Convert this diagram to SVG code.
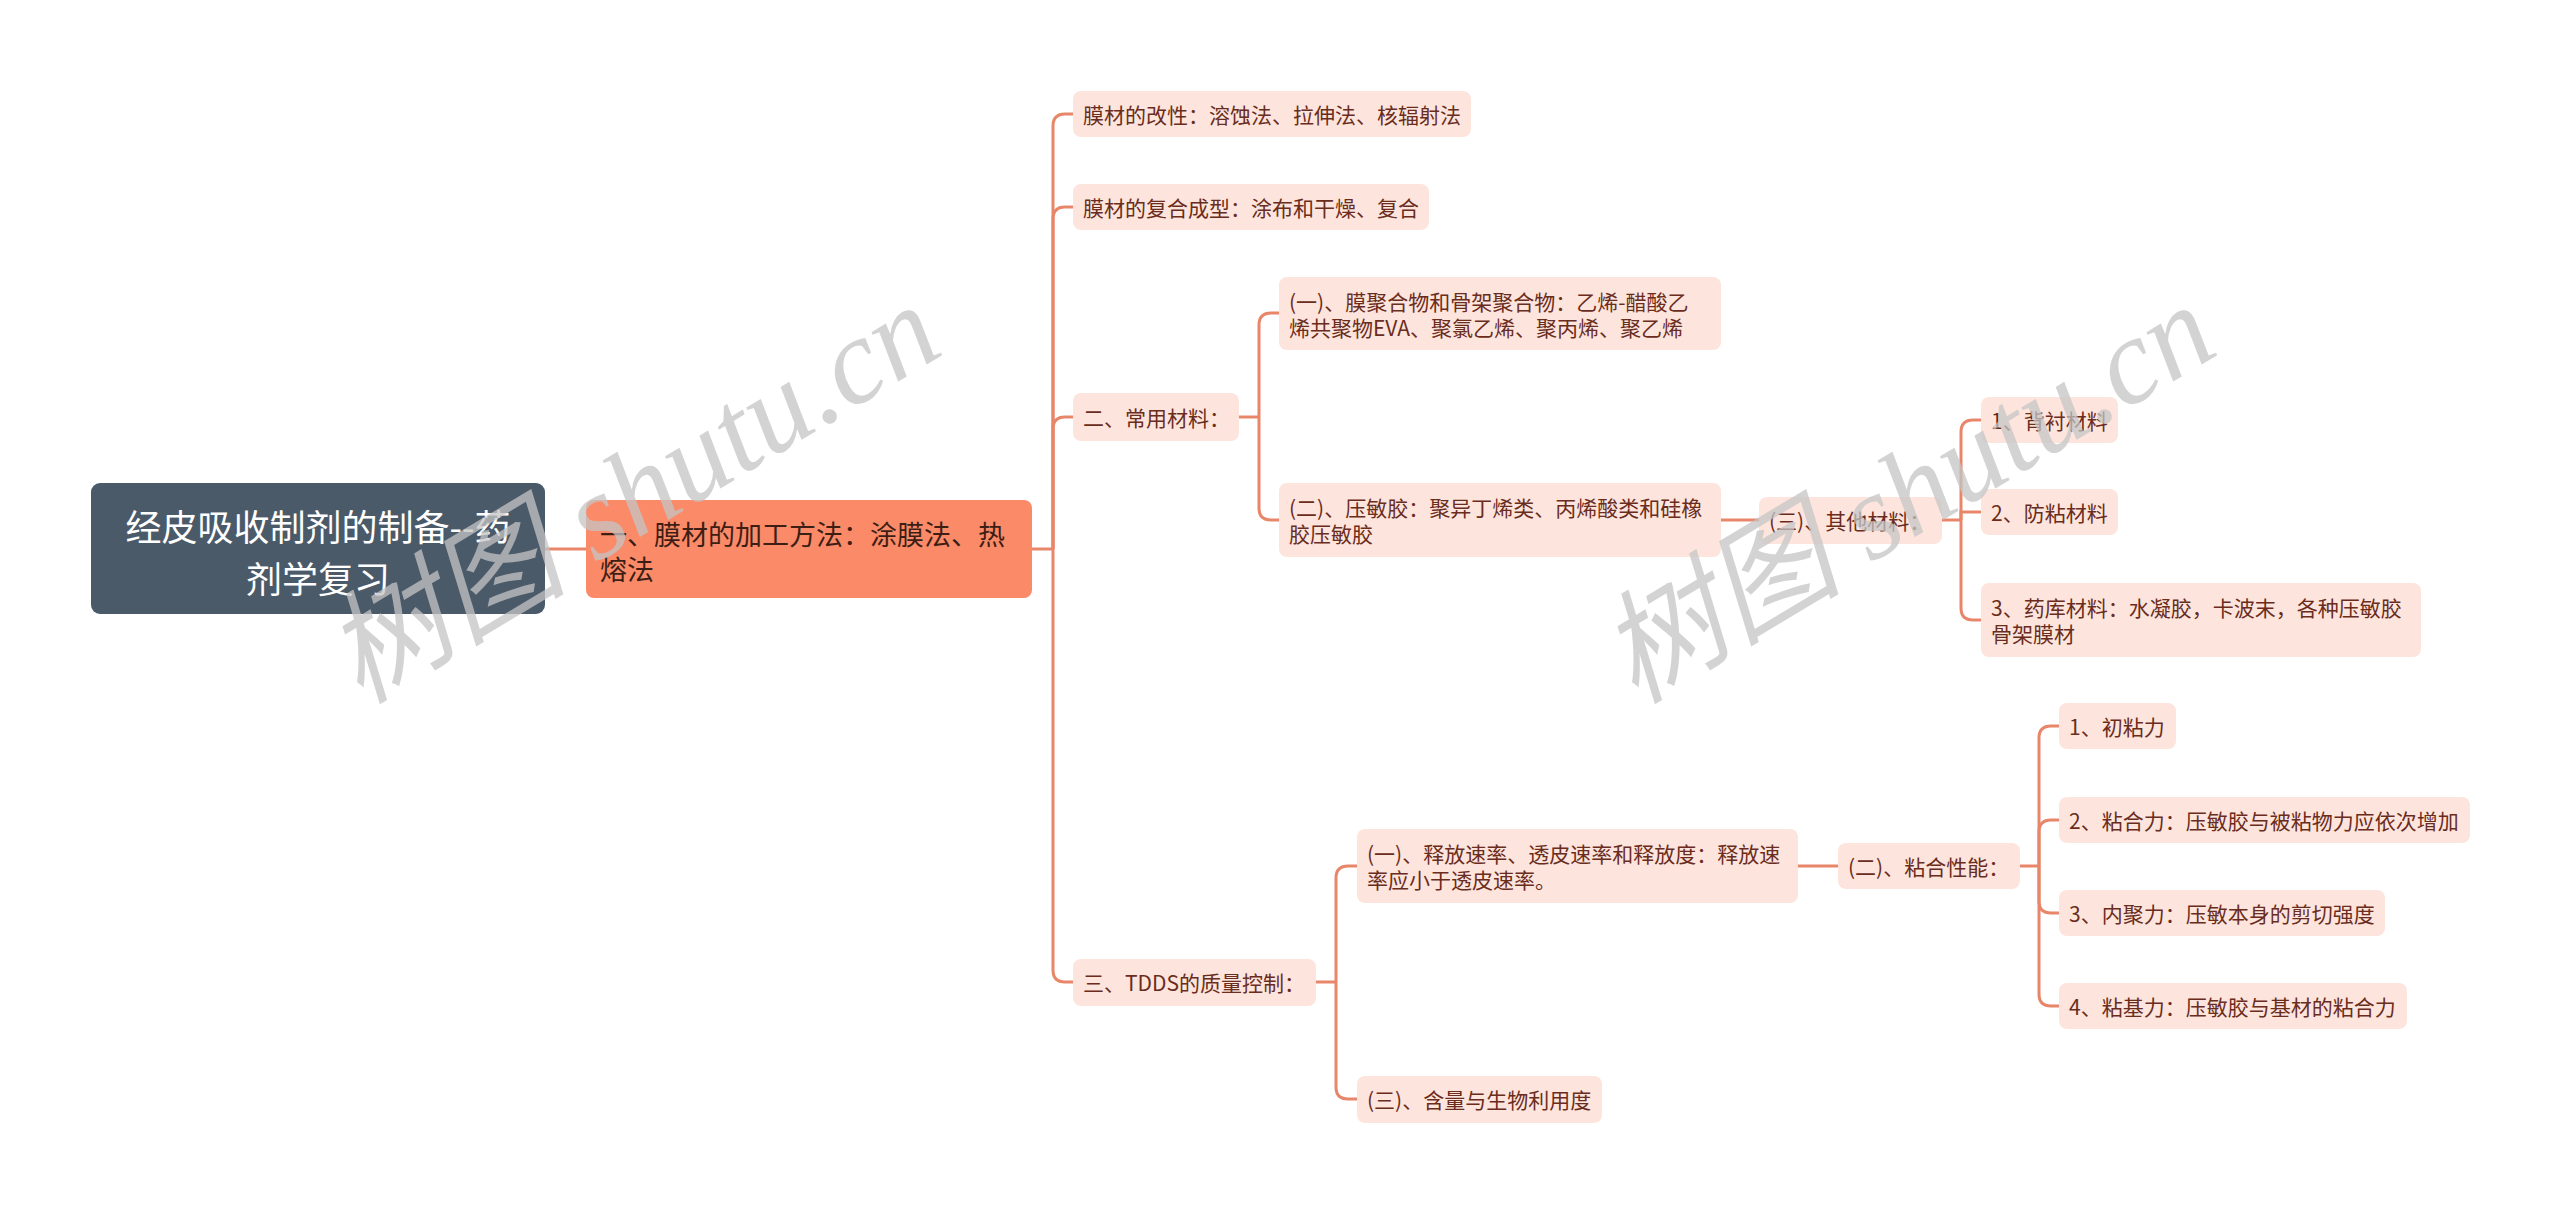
<svg xmlns="http://www.w3.org/2000/svg" width="2560" height="1213" viewBox="0 0 2560 1213">
<style>
.t{font-family:"Noto Sans CJK SC","Liberation Sans",sans-serif;}
.leaf{fill:#fde5dd;}
.lt{font-size:21px;fill:#6a2c1c;dominant-baseline:central;}
.c{fill:none;stroke:#e8866a;stroke-width:3;}
.wm{font-family:"Liberation Serif","Noto Sans CJK SC",serif;font-style:italic;font-size:122px;fill:#c4c4c4;fill-opacity:0.75;}
</style>
<rect width="2560" height="1213" fill="#ffffff"/>
<g id="connectors">
<path class="c" d="M545 549 H586"/>
<path class="c" d="M1032 549 H1053"/>
<path class="c" d="M1053 549 V126 Q1053 114 1065 114 H1073"/>
<path class="c" d="M1053 549 V219 Q1053 207 1065 207 H1073"/>
<path class="c" d="M1053 549 V429 Q1053 417 1065 417 H1073"/>
<path class="c" d="M1053 549 V970 Q1053 982 1065 982 H1073"/>
<path class="c" d="M1239 417 H1259"/>
<path class="c" d="M1259 417 V325 Q1259 313 1271 313 H1279"/>
<path class="c" d="M1259 417 V508 Q1259 520 1271 520 H1279"/>
<path class="c" d="M1721 520 H1759"/>
<path class="c" d="M1942 520 H1961"/>
<path class="c" d="M1961 520 V432 Q1961 420 1973 420 H1981"/>
<path class="c" d="M1961 520 V512 H1981"/>
<path class="c" d="M1961 520 V608 Q1961 620 1973 620 H1981"/>
<path class="c" d="M1316 982 H1336"/>
<path class="c" d="M1336 982 V878 Q1336 866 1348 866 H1357"/>
<path class="c" d="M1336 982 V1087 Q1336 1099 1348 1099 H1357"/>
<path class="c" d="M1798 866 H1838"/>
<path class="c" d="M2020 866 H2039"/>
<path class="c" d="M2039 866 V738 Q2039 726 2051 726 H2059"/>
<path class="c" d="M2039 866 V832 Q2039 820 2051 820 H2059"/>
<path class="c" d="M2039 866 V901 Q2039 913 2051 913 H2059"/>
<path class="c" d="M2039 866 V994 Q2039 1006 2051 1006 H2059"/>
</g>
<g id="root">
<rect x="91" y="483" width="454" height="131" rx="9" fill="#4b5a69"/>
<text class="t" x="318" y="525" font-size="36" fill="#ffffff" text-anchor="middle" dominant-baseline="central">经皮吸收制剂的制备--药</text>
<text class="t" x="318" y="577" font-size="36" fill="#ffffff" text-anchor="middle" dominant-baseline="central">剂学复习</text>
</g>
<g id="n1">
<rect x="586" y="500" width="446" height="98" rx="8" fill="#fa8a68"/>
<text class="t" x="600" y="533" font-size="27" fill="#3d1e14" dominant-baseline="central">一、膜材的加工方法：涂膜法、热</text>
<text class="t" x="600" y="568" font-size="27" fill="#3d1e14" dominant-baseline="central">熔法</text>
</g>
<g id="n1a">
<rect class="leaf" x="1073" y="91" width="398" height="46" rx="8"/>
<text class="t lt" x="1083" y="114">膜材的改性：溶蚀法、拉伸法、核辐射法</text>
</g>
<g id="n1b">
<rect class="leaf" x="1073" y="184" width="356" height="46" rx="8"/>
<text class="t lt" x="1083" y="207">膜材的复合成型：涂布和干燥、复合</text>
</g>
<g id="n2">
<rect class="leaf" x="1073" y="393" width="166" height="48" rx="8"/>
<text class="t lt" x="1083" y="417">二、常用材料：</text>
</g>
<g id="n2a">
<rect class="leaf" x="1279" y="277" width="442" height="73" rx="8"/>
<text class="t lt" x="1289" y="301">(一)、膜聚合物和骨架聚合物：乙烯-醋酸乙</text>
<text class="t lt" x="1289" y="327">烯共聚物EVA、聚氯乙烯、聚丙烯、聚乙烯</text>
</g>
<g id="n2b">
<rect class="leaf" x="1279" y="483" width="442" height="74" rx="8"/>
<text class="t lt" x="1289" y="507">(二)、压敏胶：聚异丁烯类、丙烯酸类和硅橡</text>
<text class="t lt" x="1289" y="533">胶压敏胶</text>
</g>
<g id="n2c">
<rect class="leaf" x="1759" y="497" width="183" height="47" rx="8"/>
<text class="t lt" x="1769" y="520">(三)、其他材料：</text>
</g>
<g id="n2c1">
<rect class="leaf" x="1981" y="397" width="137" height="46" rx="8"/>
<text class="t lt" x="1991" y="420">1、背衬材料</text>
</g>
<g id="n2c2">
<rect class="leaf" x="1981" y="489" width="137" height="46" rx="8"/>
<text class="t lt" x="1991" y="512">2、防粘材料</text>
</g>
<g id="n2c3">
<rect class="leaf" x="1981" y="583" width="440" height="74" rx="8"/>
<text class="t lt" x="1991" y="607">3、药库材料：水凝胶，卡波末，各种压敏胶</text>
<text class="t lt" x="1991" y="633">骨架膜材</text>
</g>
<g id="n3">
<rect class="leaf" x="1073" y="959" width="243" height="47" rx="8"/>
<text class="t lt" x="1083" y="982">三、TDDS的质量控制：</text>
</g>
<g id="n3a">
<rect class="leaf" x="1357" y="829" width="441" height="74" rx="8"/>
<text class="t lt" x="1367" y="853">(一)、释放速率、透皮速率和释放度：释放速</text>
<text class="t lt" x="1367" y="879">率应小于透皮速率。</text>
</g>
<g id="n3b">
<rect class="leaf" x="1838" y="843" width="182" height="46" rx="8"/>
<text class="t lt" x="1848" y="866">(二)、粘合性能：</text>
</g>
<g id="n3b1">
<rect class="leaf" x="2059" y="703" width="117" height="46" rx="8"/>
<text class="t lt" x="2069" y="726">1、初粘力</text>
</g>
<g id="n3b2">
<rect class="leaf" x="2059" y="797" width="411" height="46" rx="8"/>
<text class="t lt" x="2069" y="820">2、粘合力：压敏胶与被粘物力应依次增加</text>
</g>
<g id="n3b3">
<rect class="leaf" x="2059" y="890" width="326" height="46" rx="8"/>
<text class="t lt" x="2069" y="913">3、内聚力：压敏本身的剪切强度</text>
</g>
<g id="n3b4">
<rect class="leaf" x="2059" y="983" width="348" height="46" rx="8"/>
<text class="t lt" x="2069" y="1006">4、粘基力：压敏胶与基材的粘合力</text>
</g>
<g id="n3c">
<rect class="leaf" x="1357" y="1076" width="245" height="47" rx="8"/>
<text class="t lt" x="1367" y="1099">(三)、含量与生物利用度</text>
</g>
<g id="watermarks">
<text class="wm" transform="translate(360,705) rotate(-31)">树图 shutu.cn</text>
<text class="wm" transform="translate(1635,705) rotate(-31)">树图 shutu.cn</text>
</g>
</svg>
